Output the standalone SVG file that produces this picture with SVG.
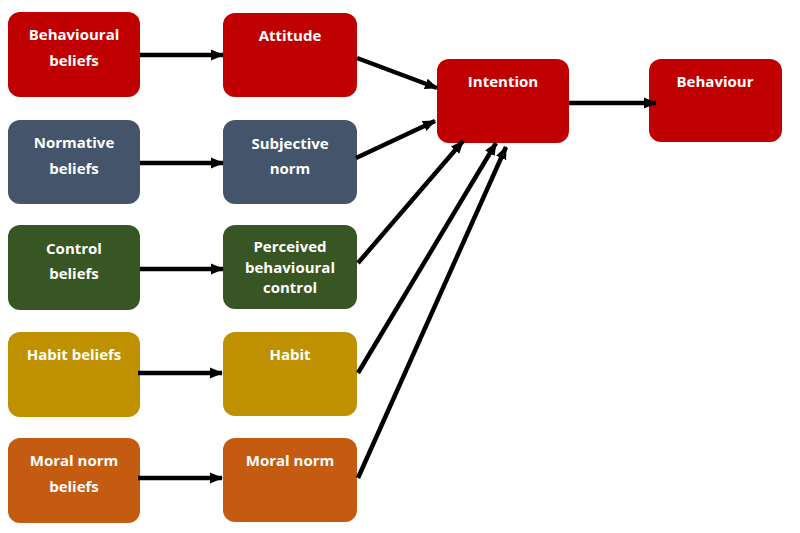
<svg xmlns="http://www.w3.org/2000/svg" width="800" height="533" viewBox="0 0 800 533">
<defs>
<marker id="ah" markerUnits="userSpaceOnUse" markerWidth="13" markerHeight="13" viewBox="0 0 13 13" refX="12" refY="6.5" orient="auto">
<path d="M0,1 L13,6.5 L0,12 Z" fill="#000"/>
</marker>
<style>
.box{stroke:none}
.red{fill:#C00000}
.slate{fill:#44546A}
.green{fill:#375623}
.gold{fill:#BF9000}
.orange{fill:#C55A11}
.t{font-family:"Open Sans","Liberation Sans",sans-serif;font-weight:bold;font-size:15px;fill:#fff;text-anchor:middle}
.c{stroke:#000;stroke-width:4.5;fill:none;marker-end:url(#ah)}
</style>
</defs>
<rect width="800" height="533" fill="#fff"/>
<g id="behavioural-beliefs"><rect class="box red" x="8" y="12" width="132" height="85" rx="12"/><text class="t" x="74" y="40">Behavioural</text><text class="t" x="74" y="66">beliefs</text></g>
<g id="attitude"><rect class="box red" x="223" y="13" width="134" height="84" rx="12"/><text class="t" x="290" y="41">Attitude</text></g>
<g id="normative-beliefs"><rect class="box slate" x="8" y="120" width="132" height="84" rx="12"/><text class="t" x="74" y="148">Normative</text><text class="t" x="74" y="174">beliefs</text></g>
<g id="subjective-norm"><rect class="box slate" x="223" y="120" width="134" height="84" rx="12"/><text class="t" x="290" y="149">Subjective</text><text class="t" x="290" y="174">norm</text></g>
<g id="control-beliefs"><rect class="box green" x="8" y="225" width="132" height="85" rx="12"/><text class="t" x="74" y="254">Control</text><text class="t" x="74" y="279">beliefs</text></g>
<g id="perceived-behavioural-control"><rect class="box green" x="223" y="225" width="134" height="84" rx="12"/><text class="t" x="290" y="252">Perceived</text><text class="t" x="290" y="273">behavioural</text><text class="t" x="290" y="293">control</text></g>
<g id="habit-beliefs"><rect class="box gold" x="8" y="332" width="132" height="85" rx="12"/><text class="t" x="74" y="360">Habit beliefs</text></g>
<g id="habit"><rect class="box gold" x="223" y="332" width="134" height="84" rx="12"/><text class="t" x="290" y="360">Habit</text></g>
<g id="moral-norm-beliefs"><rect class="box orange" x="8" y="438" width="132" height="85" rx="12"/><text class="t" x="74" y="466">Moral norm</text><text class="t" x="74" y="492">beliefs</text></g>
<g id="moral-norm"><rect class="box orange" x="223" y="438" width="134" height="84" rx="12"/><text class="t" x="290" y="466">Moral norm</text></g>
<g id="intention"><rect class="box red" x="437" y="59" width="132" height="84" rx="12" stroke="#E8A33A" stroke-width="1"/><text class="t" x="503" y="87">Intention</text></g>
<g id="behaviour"><rect class="box red" x="649" y="59" width="133" height="83" rx="12" stroke="#E8A33A" stroke-width="1"/><text class="t" x="715" y="87">Behaviour</text></g>
<g id="connectors">
<line class="c" x1="140" y1="55" x2="223" y2="55"/>
<line class="c" x1="140" y1="163" x2="223" y2="163"/>
<line class="c" x1="140" y1="269" x2="223" y2="269"/>
<line class="c" x1="138" y1="373" x2="222" y2="373"/>
<line class="c" x1="138" y1="478" x2="222" y2="478"/>
<line class="c" x1="569" y1="103" x2="656" y2="103"/>
<line class="c" x1="357" y1="58" x2="437" y2="88"/>
<line class="c" x1="356" y1="158" x2="435" y2="121"/>
<line class="c" x1="358" y1="263" x2="463" y2="141"/>
<line class="c" x1="358" y1="373" x2="496" y2="143"/>
<line class="c" x1="358" y1="478" x2="506" y2="147"/>
</g>
</svg>
